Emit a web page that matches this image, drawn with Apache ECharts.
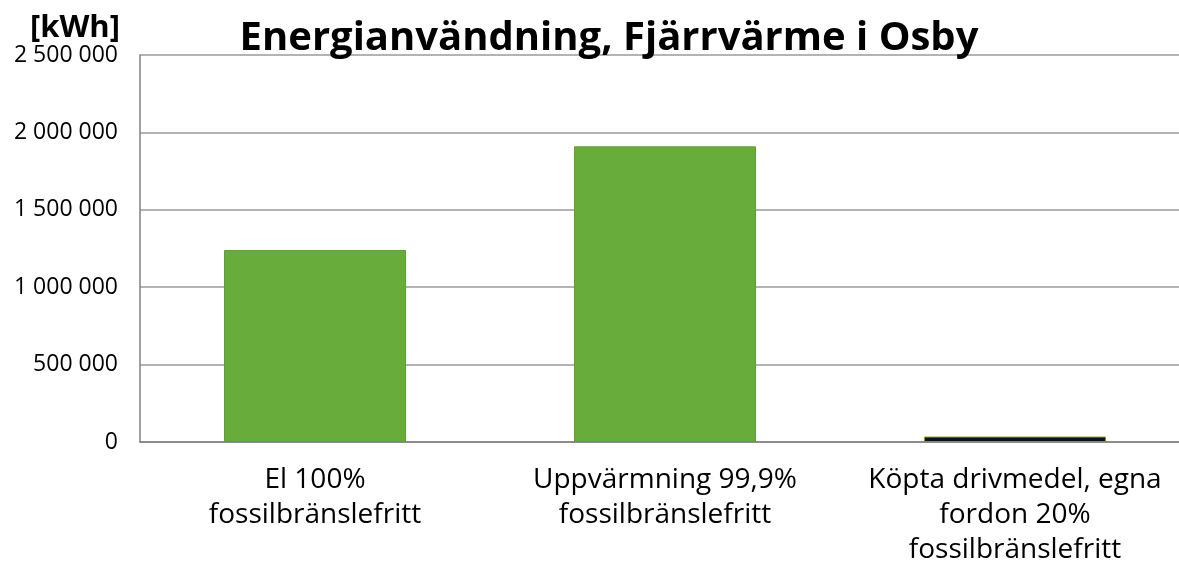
<!DOCTYPE html>
<html>
<head>
<meta charset="utf-8">
<script src="https://cdn.jsdelivr.net/npm/echarts@6/dist/echarts.min.js"></script>
<style>
  html, body { margin: 0; padding: 0; background: #fff; }
  #chart { width: 1179px; height: 565px; }
</style>
</head>
<body>
<div id="chart"></div>
<script>
// Energianvändning, Fjärrvärme i Osby

var categories = [
  'El 100%\nfossilbränslefritt',
  'Uppvärmning 99,9%\nfossilbränslefritt',
  'Köpta drivmedel, egna\nfordon 20%\nfossilbränslefritt'
];
var values = [1240000, 1910000, 35000];
var yTicks = [0, 500000, 1000000, 1500000, 2000000, 2500000];

var font = '"Open Sans", Lato, sans-serif';

function fmt(v) {
  return String(v).replace(/\B(?=(\d{3})+(?!\d))/g, ' ');
}

var myChart = echarts.init(document.getElementById('chart'));

var option = {
  animation: false,
  title: {
    text: 'Energianvändning, Fjärrvärme i Osby',
    left: 604,
    textAlign: 'center',
    top: 14,
    textStyle: { fontFamily: font, fontSize: 40, fontWeight: 'bold', color: '#000' }
  },
  grid: { left: 140, right: -11, top: 55, bottom: 123, outerBoundsMode: 'none' },
  xAxis: {
    type: 'category',
    data: categories,
    axisLine: { lineStyle: { color: '#808080', width: 1.5 } },
    axisTick: { show: false },
    axisLabel: {
      fontFamily: font, fontSize: 28, color: '#000',
      lineHeight: 35, margin: 21, interval: 0
    }
  },
  yAxis: {
    type: 'value',
    name: '[kWh]',
    nameLocation: 'end',
    nameGap: 3,
    nameTextStyle: {
      fontFamily: font, fontSize: 31, fontWeight: 'bold', color: '#000',
      align: 'right', padding: [0, 20, 0, 0]
    },
    min: yTicks[0],
    max: yTicks[yTicks.length - 1],
    interval: 500000,
    axisLine: { show: true, lineStyle: { color: '#808080', width: 1.5 } },
    axisTick: { show: false },
    splitLine: { lineStyle: { color: '#9a9a9a', width: 1.5 } },
    axisLabel: {
      fontFamily: font, fontSize: 23, color: '#000', margin: 22,
      formatter: function (v) { return fmt(v); }
    }
  },
  series: [{
    type: 'bar',
    barWidth: '52%',
    data: values.map(function (v, i) {
      return {
        value: v,
        itemStyle: i === 2
          ? { color: '#111', borderColor: '#7a9a2a', borderWidth: 1 }
          : { color: '#68ad3c', borderColor: '#5e9e34', borderWidth: 1 }
      };
    })
  }]
};

myChart.setOption(option);
</script>
</body>
</html>
